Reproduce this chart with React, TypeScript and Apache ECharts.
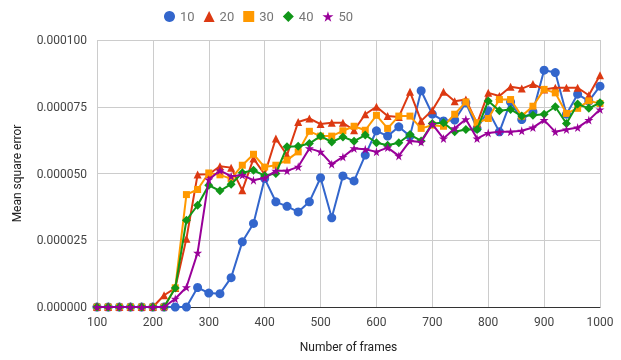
import React, { useEffect, useRef } from "react";
import * as echarts from "echarts";

// Number of frames on the x axis
const frames = [
  100, 120, 140, 160, 180, 200, 220, 240, 260, 280, 300, 320, 340, 360, 380, 400,
  420, 440, 460, 480, 500, 520, 540, 560, 580, 600, 620, 640, 660, 680, 700, 720,
  740, 760, 780, 800, 820, 840, 860, 880, 900, 920, 940, 960, 980, 1000,
];

// Mean square error per series, in units of 1e-5
const mse10 = [
  0, 0, 0, 0, 0, 0, 0, 0, 0, 0.73, 0.52, 0.5, 1.1, 2.44, 3.13, 4.81,
  3.94, 3.77, 3.56, 3.94, 4.84, 3.34, 4.91, 4.72, 5.69, 6.6, 6.4, 6.75, 6.4, 8.1, 7.22, 6.97,
  7.0, 7.65, 6.69, 7.35, 6.56, 7.68, 7.02, 7.31, 8.87, 8.78, 7.22, 7.97, 7.71, 8.27,
];
const mse20 = [
  0, 0, 0, 0, 0, 0, 0.44, 0.71, 2.56, 4.96, 4.97, 5.27, 5.22, 4.37, 5.56, 4.97,
  6.31, 5.69, 6.93, 7.06, 6.85, 6.9, 6.9, 6.62, 7.22, 7.5, 7.15, 7.12, 8.06, 6.97, 7.37, 8.06,
  7.71, 7.77, 6.87, 8.02, 7.9, 8.25, 8.18, 8.35, 8.15, 8.21, 8.21, 8.21, 7.93, 8.68,
];
const mse30 = [
  0, 0, 0, 0, 0, 0, 0, 0.72, 4.21, 4.4, 5.02, 4.95, 4.8, 5.31, 5.72, 5.24,
  5.31, 5.5, 5.81, 6.58, 6.4, 6.4, 6.6, 6.77, 6.62, 7.18, 6.69, 7.15, 7.15, 6.69, 6.81, 6.77,
  7.22, 7.68, 6.9, 7.06, 7.77, 7.77, 7.15, 7.52, 8.15, 8.02, 7.25, 7.44, 7.72, 7.62,
];
const mse40 = [
  0, 0, 0, 0, 0, 0, 0, 0.71, 3.25, 3.81, 4.56, 4.35, 4.6, 5.03, 5.12, 4.92,
  5.0, 6.0, 6.02, 6.12, 6.4, 6.18, 6.37, 6.21, 6.44, 6.15, 6.06, 6.15, 6.46, 6.22, 6.87, 6.9,
  6.56, 6.65, 6.65, 7.72, 7.35, 7.4, 7.15, 7.18, 7.22, 7.5, 6.87, 7.6, 7.44, 7.65,
];
const mse50 = [
  0, 0, 0, 0, 0, 0, 0, 0.31, 0.74, 2.03, 4.77, 5.11, 4.9, 4.94, 4.75, 4.83,
  5.1, 5.1, 5.25, 5.94, 5.81, 5.35, 5.62, 5.94, 5.91, 5.81, 5.97, 5.66, 6.22, 6.18, 6.85, 6.31,
  6.69, 7.03, 6.31, 6.52, 6.56, 6.56, 6.6, 6.72, 7.0, 6.56, 6.65, 6.72, 7.0, 7.4,
];
const UNIT = 1e-5;

const seriesNames = ["10", "20", "30", "40", "50"];
const seriesValues = [mse10, mse20, mse30, mse40, mse50];

const STAR =
  "path://M50,0 L61,35 L98,35 L68,57 L79,91 L50,70 L21,91 L32,57 L2,35 L39,35 Z";
const colors = ["#3366cc", "#dc3912", "#ff9900", "#109618", "#990099"];
const symbols = ["circle", "triangle", "rect", "diamond", STAR];
const symbolSizes = [9, 8, 7, 9, 9];

export default function App() {
  const ref = useRef<HTMLDivElement>(null);

  useEffect(() => {
    if (!ref.current) return;
    const chart = echarts.init(ref.current, null, { renderer: "svg" });
    const font = "Roboto, Arial, sans-serif";

    chart.setOption({
      animation: false,
      textStyle: { fontFamily: font },
      color: colors,
      legend: {
        top: 5,
        left: 159,
        itemWidth: 11,
        itemHeight: 11,
        itemGap: 9,
        textStyle: { color: "#757575", fontSize: 13, fontFamily: font },
        data: seriesNames.map((n, i) => ({ name: n, icon: symbols[i] })),
      },
      grid: { left: 97, right: 21, top: 40, bottom: 53 },
      xAxis: {
        type: "value",
        min: 100,
        max: 1000,
        interval: 100,
        name: "Number of frames",
        nameLocation: "middle",
        nameGap: 34,
        nameTextStyle: { color: "#222", fontSize: 12, fontFamily: font },
        axisLine: { show: true, onZero: false, lineStyle: { color: "#333", width: 1 } },
        axisTick: { show: false },
        axisLabel: {
          color: "#444",
          fontSize: 12,
          margin: 9,
          fontFamily: font,
          formatter: (v: number) => String(v),
        },
        splitLine: { show: true, lineStyle: { color: "#cccccc", width: 1 } },
      },
      yAxis: {
        type: "value",
        min: 0,
        max: 0.0001,
        interval: 0.000025,
        name: "Mean square error",
        nameLocation: "middle",
        nameGap: 74,
        nameTextStyle: { color: "#222", fontSize: 12, fontFamily: font },
        axisLine: { show: false },
        axisTick: { show: false },
        axisLabel: {
          color: "#444",
          fontSize: 12,
          margin: 10,
          fontFamily: font,
          formatter: (v: number) => v.toFixed(6),
        },
        splitLine: { show: true, lineStyle: { color: "#cccccc", width: 1 } },
      },
      series: seriesNames.map((n, i) => ({
        name: n,
        type: "line",
        data: frames.map((f, j) => [f, seriesValues[i][j] * UNIT]),
        symbol: symbols[i],
        symbolSize: symbolSizes[i],
        showAllSymbol: true,
        lineStyle: { width: 2, color: colors[i] },
        itemStyle: { color: colors[i] },
        z: 2 + i,
      })),
    });

    return () => chart.dispose();
  }, []);

  return (
    <div
      ref={ref}
      style={{ position: "fixed", left: 0, top: 0, width: 621, height: 360 }}
    />
  );
}
